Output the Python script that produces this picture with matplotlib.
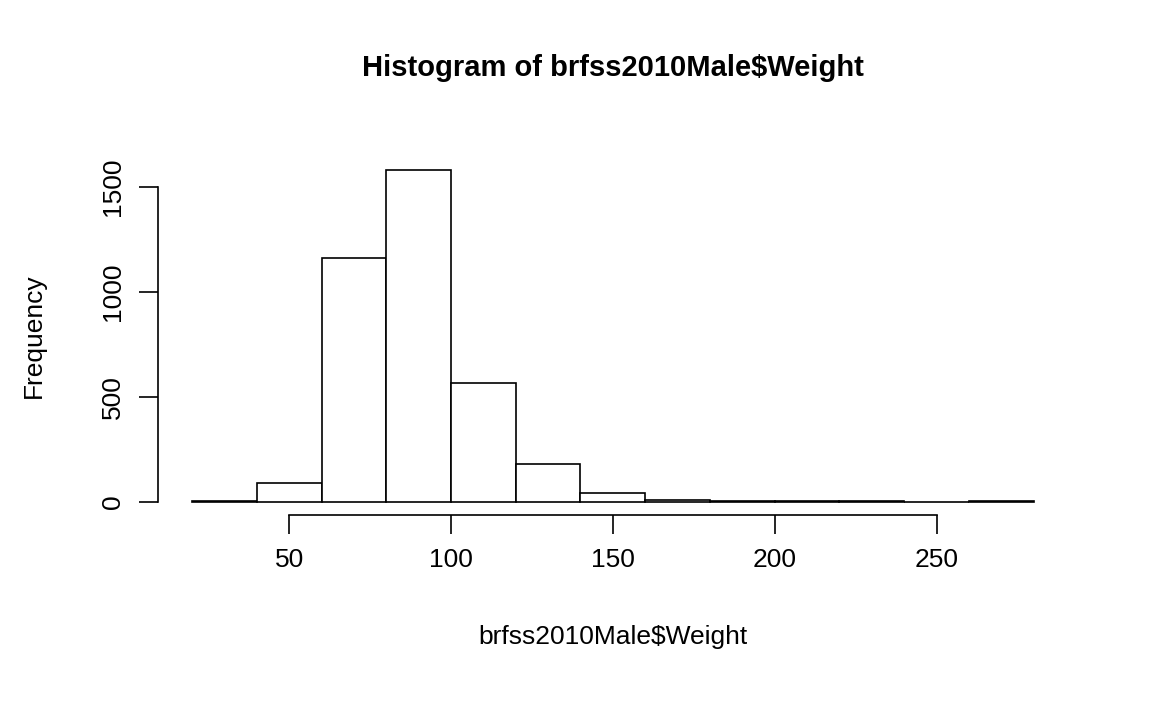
import matplotlib
matplotlib.use("Agg")
import matplotlib.pyplot as plt

# bin edges and counts
bin_edges = [20, 40, 60, 80, 100, 120, 140, 160, 180, 200, 220, 240, 260, 280]
counts = [1, 90, 1162, 1581, 567, 181, 43, 8, 4, 1, 1, 0, 1]
x_ticks = [50, 100, 150, 200, 250]
y_ticks = [0, 500, 1000, 1500]

plt.rcParams['font.family'] = ['Liberation Sans', 'DejaVu Sans']

fig = plt.figure(figsize=(11.52, 7.11), dpi=100)
ax = fig.add_axes([0.1375, 0.2757, 0.789, 0.504])

lefts = bin_edges[:-1]
widths = [b - a for a, b in zip(bin_edges[:-1], bin_edges[1:])]
ax.bar(lefts, counts, width=widths, align="edge",
       facecolor="white", edgecolor="black", linewidth=1.2)

span = bin_edges[-1] - bin_edges[0]
ax.set_xlim(bin_edges[0] - 0.04 * span, bin_edges[-1] + 0.04 * span)
top = max(counts)
ax.set_ylim(-0.04 * top, top * 1.04)

for s in ["top", "right"]:
    ax.spines[s].set_visible(False)
ax.spines["bottom"].set_bounds(x_ticks[0], x_ticks[-1])
ax.spines["left"].set_bounds(y_ticks[0], y_ticks[-1])
for s in ["bottom", "left"]:
    ax.spines[s].set_linewidth(1.2)

ax.set_xticks(x_ticks)
ax.set_yticks(y_ticks)
ax.set_yticklabels([str(v) for v in y_ticks], rotation=90, va="center")
ax.tick_params(axis="both", length=14, width=1.2, labelsize=19, pad=10)

ax.set_title("Histogram of brfss2010Male$Weight", fontsize=21,
             fontweight="bold", pad=58)
ax.set_xlabel("brfss2010Male$Weight", fontsize=19, labelpad=38)
ax.set_ylabel("Frequency", fontsize=19, labelpad=40)

fig.savefig("out.png", dpi=100)
